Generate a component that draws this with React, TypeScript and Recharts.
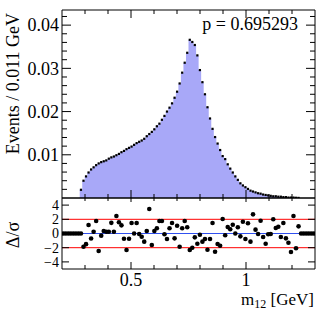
import { ComposedChart, Area, Scatter, XAxis, YAxis, ReferenceLine } from 'recharts';

const FONT = '"Liberation Serif", "Times New Roman", serif';

// binning of m12 (GeV)
const BIN_LOW = 0.2;
const BIN_WIDTH = 0.011;

// normalised events per bin, 100 bins from 0.2 to 1.3 GeV
const EVENTS = [
  0, 0, 0, 0, 0, 0, 0, 0.0019, 0.004, 0.005,
  0.0059, 0.0066, 0.0071, 0.0076, 0.008, 0.0083, 0.0085, 0.0087, 0.0091, 0.0094,
  0.0096, 0.0099, 0.0102, 0.0106, 0.0109, 0.0113, 0.0116, 0.0119, 0.0123, 0.0127,
  0.013, 0.0133, 0.0137, 0.0143, 0.0148, 0.0153, 0.0159, 0.0166, 0.0172, 0.0181,
  0.019, 0.02, 0.0209, 0.0219, 0.0232, 0.0246, 0.0265, 0.029, 0.0313, 0.0336,
  0.0366, 0.0361, 0.0354, 0.033, 0.0296, 0.0268, 0.024, 0.021, 0.0184, 0.016,
  0.0141, 0.0126, 0.0111, 0.0097, 0.009, 0.0078, 0.0068, 0.0059, 0.005, 0.0042,
  0.0034, 0.0029, 0.0025, 0.0021, 0.0017, 0.0015, 0.0013, 0.0011, 0.001, 0.0008,
  0.0007, 0.0006, 0.0005, 0.0004, 0.0004, 0.0003, 0.0003, 0.0002, 0.0002, 0.0001,
  0.0001, 0.0001, 0.00005, 0.00002, 0, 0, 0, 0, 0, 0,
];

// pulls (data - fit) / sigma per bin
const PULLS = [
  0, 0, 0, 0, 0, 0, 0, 0, -1.86, -1.5,
  1.2, -0.7, 0.25, 1.76, -2.46, -0.3, 0.35, 0.25, 0.25, 1.5,
  0.25, 2.46, 1.58, 1.15, -0.73, -2.32, -0.73, 1.48, 0, 1.48,
  -0.07, -0.45, -1.15, 0.35, 3.45, -1.62, 0.35, 0.73, 1.76, 1.76,
  -0.1, -0.77, 0.73, 1.48, -0.68, 1.1, -1.86, 0.73, 1.76, 0.87,
  -2.32, -2.0, -0.54, -1.44, -0.17, -1.15, -0.77, -2.28, -0.77, 1.48,
  -2.56, -1.48, -1.72, 2.04, -0.25, 0.92, 0.59, 1.24, 0, 0.87,
  -0.4, 1.66, -0.77, 1.44, -1.15, 2.7, 0.54, -0.07, 1.8, -0.5,
  -1.44, -0.1, -0.07, 2.0, 0.77, 0.96, -0.5, 1.48, -0.68, -1.3,
  -2.6, 2.46, -2.08, 1.01, 0, 0, 0, 0, 0, 0,
];

const X_MAJOR = [0.5, 1];
const X_LABELS = ['0.5', '1'];
const X_TICKS = [0.3, 0.4, 0.5, 0.6, 0.7, 0.8, 0.9, 1, 1.1, 1.2];

const TOP_Y_MAJOR = [0.01, 0.02, 0.03, 0.04];
const TOP_Y_LABELS = ['0.01', '0.02', '0.03', '0.04'];
const TOP_Y_TICKS = Array.from({ length: 21 }, (_, i) => +(0.002 * (i + 1)).toFixed(3));

const PULL_Y_MAJOR = [-4, -2, 0, 2, 4];
const PULL_Y_LABELS = ['−4', '−2', '0', '2', '4'];

const histData = EVENTS.map((v, i) => ({ x: BIN_LOW + BIN_WIDTH * i, y: v }));
histData.push({ x: BIN_LOW + BIN_WIDTH * EVENTS.length, y: EVENTS[EVENTS.length - 1] });
const pointData = EVENTS.map((v, i) => ({ x: BIN_LOW + BIN_WIDTH * (i + 0.5), y: v })).filter((d) => d.y > 0);
const pullData = PULLS.map((v, i) => ({ x: BIN_LOW + BIN_WIDTH * (i + 0.5), y: v }));

type Side = 'left' | 'right' | 'top' | 'bottom';

function makeTick(side: Side, majors: number[], labels: string[] | null, majorLen: number, minorLen: number, fontSize = 18) {
  return (props: any) => {
    const { x, y, payload } = props;
    const idx = majors.findIndex((m) => Math.abs(m - payload.value) < 1e-9);
    const len = idx >= 0 ? majorLen : minorLen;
    let line = null;
    if (side === 'left') line = <line x1={x} y1={y} x2={x + len} y2={y} stroke="#000" />;
    if (side === 'right') line = <line x1={x} y1={y} x2={x - len} y2={y} stroke="#000" />;
    if (side === 'bottom') line = <line x1={x} y1={y} x2={x} y2={y - len} stroke="#000" />;
    if (side === 'top') line = <line x1={x} y1={y} x2={x} y2={y + len} stroke="#000" />;
    let text = null;
    if (labels && idx >= 0) {
      if (side === 'left') {
        text = (
          <text x={x - 3} y={y} dy="0.35em" textAnchor="end" fontSize={fontSize} fontFamily={FONT} fill="#000">
            {labels[idx]}
          </text>
        );
      } else if (side === 'bottom') {
        text = (
          <text x={x} y={y + 16.5} textAnchor="middle" fontSize={fontSize} fontFamily={FONT} fill="#000">
            {labels[idx]}
          </text>
        );
      }
    }
    return (
      <g>
        {line}
        {text}
      </g>
    );
  };
}

const dotSquare = (p: any) => <rect x={p.cx - 1.1} y={p.cy - 1.1} width={2.2} height={2.2} fill="#000" />;
const dotCircle = (p: any) => <circle cx={p.cx} cy={p.cy} r={2.3} fill="#000" />;

export default function App() {
  return (
    <div style={{ position: 'absolute', left: 0, top: 0, width: 332, height: 326, background: '#fff' }}>
      <div style={{ position: 'absolute', left: 0, top: 0 }}>
        <ComposedChart width={332} height={200} data={histData} margin={{ top: 9, right: 16, bottom: 1, left: 61 }}>
          <XAxis
            xAxisId="b"
            dataKey="x"
            type="number"
            domain={[0.2, 1.3]}
            allowDataOverflow
            ticks={X_TICKS}
            interval={0}
            height={1}
            tickSize={0}
            tickMargin={0}
            tickLine={false}
            axisLine={{ stroke: '#000' }}
            tick={makeTick('bottom', X_MAJOR, null, 8, 4)}
          />
          <XAxis
            xAxisId="t"
            orientation="top"
            dataKey="x"
            type="number"
            domain={[0.2, 1.3]}
            allowDataOverflow
            ticks={X_TICKS}
            interval={0}
            height={1}
            tickSize={0}
            tickMargin={0}
            tickLine={false}
            axisLine={{ stroke: '#000' }}
            tick={makeTick('top', X_MAJOR, null, 8, 4)}
            label={() => (
              <text x={298} y={30} textAnchor="end" fontSize={18} fontFamily={FONT} fill="#000">
                p = 0.695293
              </text>
            )}
          />
          <YAxis
            yAxisId="l"
            dataKey="y"
            type="number"
            domain={[0, 0.0435]}
            allowDataOverflow
            ticks={TOP_Y_TICKS}
            interval={0}
            width={1}
            tickSize={0}
            tickMargin={0}
            tickLine={false}
            axisLine={{ stroke: '#000' }}
            tick={makeTick('left', TOP_Y_MAJOR, TOP_Y_LABELS, 9, 5)}
            label={() => (
              <text
                x={19}
                y={13}
                transform="rotate(-90, 19, 13)"
                textAnchor="end"
                fontSize={18}
                fontFamily={FONT}
                fill="#000"
              >
                Events / 0.011 GeV
              </text>
            )}
          />
          <YAxis
            yAxisId="r"
            orientation="right"
            type="number"
            domain={[0, 0.0435]}
            allowDataOverflow
            ticks={TOP_Y_TICKS}
            interval={0}
            width={1}
            tickSize={0}
            tickMargin={0}
            tickLine={false}
            axisLine={{ stroke: '#000' }}
            tick={makeTick('right', TOP_Y_MAJOR, null, 9, 5)}
          />
          <Area
            xAxisId="b"
            yAxisId="l"
            type="stepAfter"
            dataKey="y"
            stroke="none"
            fill="#a8a8f8"
            fillOpacity={1}
            dot={false}
            activeDot={false}
            isAnimationActive={false}
          />
          <Scatter
            xAxisId="b"
            yAxisId="l"
            data={pointData}
            dataKey="y"
            shape={dotSquare}
            isAnimationActive={false}
          />
        </ComposedChart>
      </div>
      <div style={{ position: 'absolute', left: 0, top: 180 }}>
        <ComposedChart width={332} height={146} data={pullData} margin={{ top: 17, right: 16, bottom: 56, left: 61 }}>
          <XAxis
            xAxisId="b"
            dataKey="x"
            type="number"
            domain={[0.2, 1.3]}
            allowDataOverflow
            ticks={X_TICKS}
            interval={0}
            height={1}
            tickSize={0}
            tickMargin={0}
            tickLine={false}
            axisLine={{ stroke: '#000' }}
            tick={makeTick('bottom', X_MAJOR, X_LABELS, 7, 4)}
            label={() => (
              <text x={314} y={125} textAnchor="end" fontSize={17} fontFamily={FONT} fill="#000">
                m<tspan fontSize={12} dy={3}>12</tspan>
                <tspan dy={-3}> [GeV]</tspan>
              </text>
            )}
          />
          <XAxis
            xAxisId="t"
            orientation="top"
            dataKey="x"
            type="number"
            domain={[0.2, 1.3]}
            allowDataOverflow
            ticks={X_TICKS}
            interval={0}
            height={1}
            tickSize={0}
            tickMargin={0}
            tickLine={false}
            axisLine={{ stroke: '#000' }}
            tick={makeTick('top', X_MAJOR, null, 4, 3)}
          />
          <YAxis
            yAxisId="l"
            dataKey="y"
            type="number"
            domain={[-5, 5]}
            allowDataOverflow
            ticks={PULL_Y_MAJOR}
            interval={0}
            width={1}
            tickSize={0}
            tickMargin={0}
            tickLine={false}
            axisLine={{ stroke: '#000' }}
            tick={makeTick('left', PULL_Y_MAJOR, PULL_Y_LABELS, 7, 4, 14)}
            label={() => (
              <text
                x={19}
                y={55}
                transform="rotate(-90, 19, 55)"
                textAnchor="middle"
                fontSize={18}
                fontFamily={FONT}
                fill="#000"
              >
                Δ/σ
              </text>
            )}
          />
          <YAxis
            yAxisId="r"
            orientation="right"
            type="number"
            domain={[-5, 5]}
            allowDataOverflow
            ticks={PULL_Y_MAJOR}
            interval={0}
            width={1}
            tickSize={0}
            tickMargin={0}
            tickLine={false}
            axisLine={{ stroke: '#000' }}
            tick={makeTick('right', PULL_Y_MAJOR, null, 7, 4)}
          />
          <ReferenceLine xAxisId="b" yAxisId="l" y={2} stroke="#ff0000" strokeWidth={1} />
          <ReferenceLine xAxisId="b" yAxisId="l" y={-2} stroke="#ff0000" strokeWidth={1} />
          <ReferenceLine xAxisId="b" yAxisId="l" y={0} stroke="#3050f0" strokeWidth={1.2} />
          <Scatter
            xAxisId="b"
            yAxisId="l"
            data={pullData}
            dataKey="y"
            shape={dotCircle}
            isAnimationActive={false}
          />
        </ComposedChart>
      </div>
    </div>
  );
}
